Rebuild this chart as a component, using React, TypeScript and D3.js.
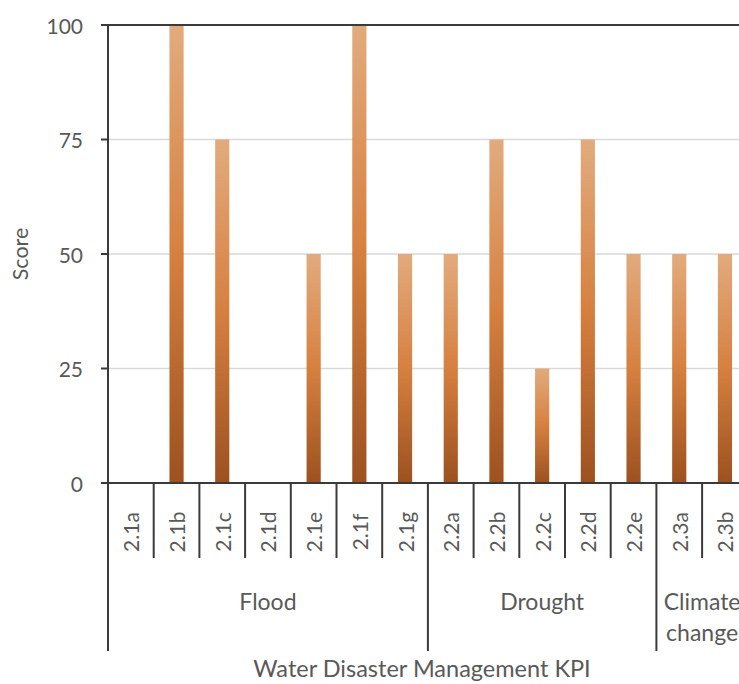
import React from "react";
import * as d3 from "d3";

// KPI codes and scores
const categories = [
  "2.1a", "2.1b", "2.1c", "2.1d", "2.1e", "2.1f", "2.1g",
  "2.2a", "2.2b", "2.2c", "2.2d", "2.2e",
  "2.3a", "2.3b",
];
const scores = [0, 100, 75, 0, 50, 100, 50, 50, 75, 25, 75, 50, 50, 50];

// Group names with the number of KPIs in each group
const groupNames = [["Flood"], ["Drought"], ["Climate", "change"]];
const groupSizes = [7, 5, 2];

const yTicks = [0, 25, 50, 75, 100];

const W = 739;
const H = 684;
const plotLeft = 108;
const plotTop = 25;
const plotBottom = 483;
const step = 45.7;

const FONT = "Lato, 'Open Sans', sans-serif";
const TEXT = "#595959";
const AXIS = "#3a3a3a";

export default function App() {
  const x = d3
    .scaleBand<string>()
    .domain(categories)
    .range([plotLeft, plotLeft + step * categories.length])
    .paddingInner(0.69)
    .paddingOuter(0.345);
  const y = d3.scaleLinear().domain([0, 100]).range([plotBottom, plotTop]);

  const band0 = (i: number) => plotLeft + i * step;

  // group boundaries (indices)
  const groupStarts: number[] = [];
  let acc = 0;
  groupSizes.forEach((s) => {
    groupStarts.push(acc);
    acc += s;
  });

  const shortSepBottom = 558;
  const longSepBottom = 651;

  return (
    <svg
      width={W}
      height={H}
      style={{ position: "absolute", left: 0, top: 0, background: "#fff" }}
    >
      <defs>
        <linearGradient id="barGrad" x1="0" y1="0" x2="0" y2="1">
          <stop offset="0%" stopColor="#e2ab7d" />
          <stop offset="50%" stopColor="#d6803f" />
          <stop offset="100%" stopColor="#9c511f" />
        </linearGradient>
      </defs>

      {/* gridlines */}
      {yTicks
        .filter((t) => t !== 0 && t !== 100)
        .map((t) => (
          <line
            key={t}
            x1={plotLeft}
            x2={W}
            y1={y(t)}
            y2={y(t)}
            stroke="#d9d9d9"
            strokeWidth={1.5}
          />
        ))}

      {/* bars */}
      {categories.map((c, i) =>
        scores[i] > 0 ? (
          <rect
            key={c}
            x={x(c)}
            y={y(scores[i])}
            width={x.bandwidth()}
            height={y(0) - y(scores[i])}
            fill="url(#barGrad)"
          />
        ) : null
      )}

      {/* top border line */}
      <line x1={plotLeft - 7} x2={W} y1={y(100)} y2={y(100)} stroke={AXIS} strokeWidth={2} />
      {/* x axis line */}
      <line x1={plotLeft - 7} x2={W} y1={y(0)} y2={y(0)} stroke={AXIS} strokeWidth={2} />
      {/* y axis line */}
      <line x1={plotLeft} x2={plotLeft} y1={plotTop - 1} y2={longSepBottom} stroke={AXIS} strokeWidth={2} />

      {/* y ticks and labels */}
      {yTicks.map((t) => (
        <g key={t}>
          <line x1={plotLeft - 7} x2={plotLeft} y1={y(t)} y2={y(t)} stroke={AXIS} strokeWidth={2} />
          <text
            x={83}
            y={y(t)}
            textAnchor="end"
            dominantBaseline="central"
            fontFamily={FONT}
            fontSize={21}
            fill={TEXT}
          >
            {t}
          </text>
        </g>
      ))}

      {/* category separators */}
      {categories.map((c, i) => {
        if (i === 0) return null;
        const isGroup = groupStarts.includes(i);
        return (
          <line
            key={"sep" + c}
            x1={band0(i)}
            x2={band0(i)}
            y1={plotBottom}
            y2={isGroup ? longSepBottom : shortSepBottom}
            stroke={AXIS}
            strokeWidth={2}
          />
        );
      })}

      {/* category labels */}
      {categories.map((c) => {
        const cx = (x(c) as number) + x.bandwidth() / 2;
        return (
          <text
            key={"lab" + c}
            transform={`translate(${cx},${532}) rotate(-90)`}
            textAnchor="middle"
            dominantBaseline="central"
            fontFamily={FONT}
            fontSize={21}
            fill={TEXT}
          >
            {c}
          </text>
        );
      })}

      {/* group labels */}
      {groupNames.map((lines, g) => {
        const start = band0(groupStarts[g]);
        const end = band0(groupStarts[g] + groupSizes[g]);
        const cx = (start + end) / 2;
        return (
          <text
            key={"grp" + g}
            x={cx}
            y={610}
            textAnchor="middle"
            fontFamily={FONT}
            fontSize={23}
            fill={TEXT}
          >
            {lines.map((l, k) => (
              <tspan key={k} x={cx} dy={k === 0 ? 0 : 31}>
                {l}
              </tspan>
            ))}
          </text>
        );
      })}

      {/* axis titles */}
      <text
        x={422}
        y={677}
        textAnchor="middle"
        fontFamily={FONT}
        fontSize={23.5}
        fill={TEXT}
      >
        Water Disaster Management KPI
      </text>
      <text
        transform={`translate(20,${y(50)}) rotate(-90)`}
        textAnchor="middle"
        dominantBaseline="central"
        fontFamily={FONT}
        fontSize={21.5}
        fill={TEXT}
      >
        Score
      </text>
    </svg>
  );
}
